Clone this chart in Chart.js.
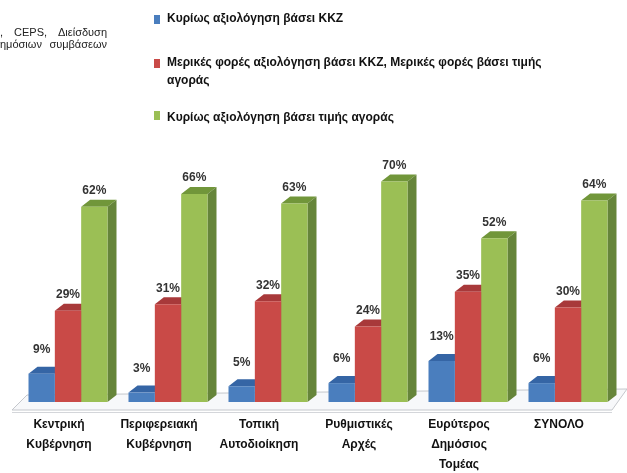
<!DOCTYPE html>
<html>
<head>
<meta charset="utf-8">
<script src="https://cdn.jsdelivr.net/npm/chart.js@4"></script>
<style>
  html, body { margin: 0; padding: 0; background: #ffffff; }
  #wrap { position: relative; width: 627px; height: 473px; overflow: hidden; }
  #c { position: absolute; left: 0; top: 0; }
  .note { position: absolute; left: 0; width: 107px; font: 11px "Liberation Sans", Arial, sans-serif; color: #222; text-align: justify; text-align-last: justify; white-space: nowrap; }
  .lg { position: absolute; left: 0; font: bold 12px "Liberation Sans", Arial, sans-serif; color: #111; }
  .sw { position: absolute; width: 6px; height: 9px; }
  .lt { position: absolute; left: 167px; line-height: 18px; white-space: nowrap; }
</style>
</head>
<body>
<div id="wrap">
  <canvas id="c" width="627" height="473"></canvas>
  <div class="note" style="top:26px;">, &nbsp;CEPS, &nbsp;Διείσδυση</div>
  <div class="note" style="top:38px;">ημόσιων &nbsp;συμβάσεων</div>
  <div id="legend"></div>
</div>
<script>
// ---- data ----
const categories = [
  ["Κεντρική", "Κυβέρνηση"],
  ["Περιφερειακή", "Κυβέρνηση"],
  ["Τοπική", "Αυτοδιοίκηση"],
  ["Ρυθμιστικές", "Αρχές"],
  ["Ευρύτερος", "Δημόσιος", "Τομέας"],
  ["ΣΥΝΟΛΟ"]
];
const seriesNames = [
  "Κυρίως αξιολόγηση βάσει ΚΚΖ",
  "Μερικές φορές αξιολόγηση βάσει ΚΚΖ, Μερικές φορές βάσει τιμής αγοράς",
  "Κυρίως αξιολόγηση βάσει τιμής αγοράς"
];
const mainlyKKZ = [9, 3, 5, 6, 13, 6];
const sometimes = [29, 31, 32, 24, 35, 30];
const mainlyPrice = [62, 66, 63, 70, 52, 64];

// ---- styles ----
const front = ["#4a7ebe", "#c94a47", "#9bbf55"];
const topC  = ["#3565a5", "#a8393a", "#71963a"];
const sideC = ["#2e5a93", "#9c3533", "#66853a"];
const labelLift = [24, 16, 16];

// legend (HTML)
const legendBoxes = [
  { sq: 15, lines: [seriesNames[0]], top: 9 },
  { sq: 59, lines: ["Μερικές φορές αξιολόγηση βάσει ΚΚΖ, Μερικές φορές βάσει τιμής", "αγοράς"], top: 53 },
  { sq: 111, lines: [seriesNames[2]], top: 108 }
];
const lg = document.getElementById('legend');
legendBoxes.forEach((b, i) => {
  const d = document.createElement('div');
  d.className = 'lg';
  const s = document.createElement('div');
  s.className = 'sw';
  s.style.left = '154px'; s.style.top = b.sq + 'px'; s.style.background = front[i];
  d.appendChild(s);
  const t = document.createElement('div');
  t.className = 'lt';
  t.style.top = b.top + 'px';
  t.innerHTML = b.lines.join('<br>');
  d.appendChild(t);
  lg.appendChild(d);
});

const DX = 9, DY = 7;

const threeD = {
  id: 'threeD',
  beforeDatasetsDraw(chart) {
    const ctx = chart.ctx;
    const a = chart.chartArea;
    // floor
    ctx.save();
    ctx.beginPath();
    ctx.moveTo(a.left + 9, a.bottom - 7);
    ctx.lineTo(627, a.bottom - 13);
    ctx.lineTo(a.right - 6, a.bottom + 8);
    ctx.lineTo(a.left - 6, a.bottom + 8);
    ctx.closePath();
    ctx.fillStyle = '#f7f8fa';
    ctx.fill();
    ctx.strokeStyle = '#c4c7cc';
    ctx.lineWidth = 1;
    ctx.stroke();
    ctx.beginPath();
    ctx.moveTo(a.left - 6, a.bottom + 10.5);
    ctx.lineTo(a.right - 6, a.bottom + 10.5);
    ctx.strokeStyle = '#d4d6da';
    ctx.stroke();
    ctx.restore();
    // tops and sides
    chart.data.datasets.forEach((ds, di) => {
      const meta = chart.getDatasetMeta(di);
      meta.data.forEach(bar => {
        const l = bar.x - bar.width / 2, r = bar.x + bar.width / 2;
        const y = bar.y, b = bar.base;
        ctx.save();
        ctx.beginPath();
        ctx.moveTo(l, y); ctx.lineTo(l + DX, y - DY); ctx.lineTo(r + DX, y - DY); ctx.lineTo(r, y);
        ctx.closePath();
        ctx.fillStyle = topC[di]; ctx.fill();
        ctx.beginPath();
        ctx.moveTo(r, y); ctx.lineTo(r + DX, y - DY); ctx.lineTo(r + DX, b - DY); ctx.lineTo(r, b);
        ctx.closePath();
        ctx.fillStyle = sideC[di]; ctx.fill();
        ctx.restore();
      });
    });
  },
  afterDatasetsDraw(chart) {
    const ctx = chart.ctx;
    ctx.save();
    ctx.font = 'bold 12px "Liberation Sans", Arial, sans-serif';
    ctx.fillStyle = '#333333';
    ctx.textAlign = 'center';
    ctx.textBaseline = 'middle';
    chart.data.datasets.forEach((ds, di) => {
      const meta = chart.getDatasetMeta(di);
      meta.data.forEach((bar, i) => {
        ctx.fillText(ds.data[i] + '%', bar.x, bar.y - labelLift[di]);
      });
    });
    ctx.restore();
  }
};

new Chart(document.getElementById('c'), {
  type: 'bar',
  data: {
    labels: categories,
    datasets: [
      { label: seriesNames[0], data: mainlyKKZ, backgroundColor: front[0] },
      { label: seriesNames[1], data: sometimes, backgroundColor: front[1] },
      { label: seriesNames[2], data: mainlyPrice, backgroundColor: front[2] }
    ]
  },
  options: {
    responsive: false,
    animation: false,
    layout: { padding: { left: 18, right: 9, top: 150, bottom: 0 } },
    plugins: { legend: { display: false }, tooltip: { enabled: false } },
    datasets: { bar: { categoryPercentage: 0.79, barPercentage: 1.0, borderWidth: 0 } },
    scales: {
      x: {
        grid: { display: false, drawTicks: false },
        border: { display: false },
        afterFit(scale) { scale.height = 71; },
        ticks: {
          padding: 13,
          labelOffset: -9,
          color: '#111',
          font: { family: '"Liberation Sans", Arial, sans-serif', size: 12, weight: 'bold', lineHeight: 1.65 },
          maxRotation: 0, autoSkip: false
        }
      },
      y: { display: false, min: 0, max: 80 }
    }
  },
  plugins: [threeD]
});
</script>
</body>
</html>
